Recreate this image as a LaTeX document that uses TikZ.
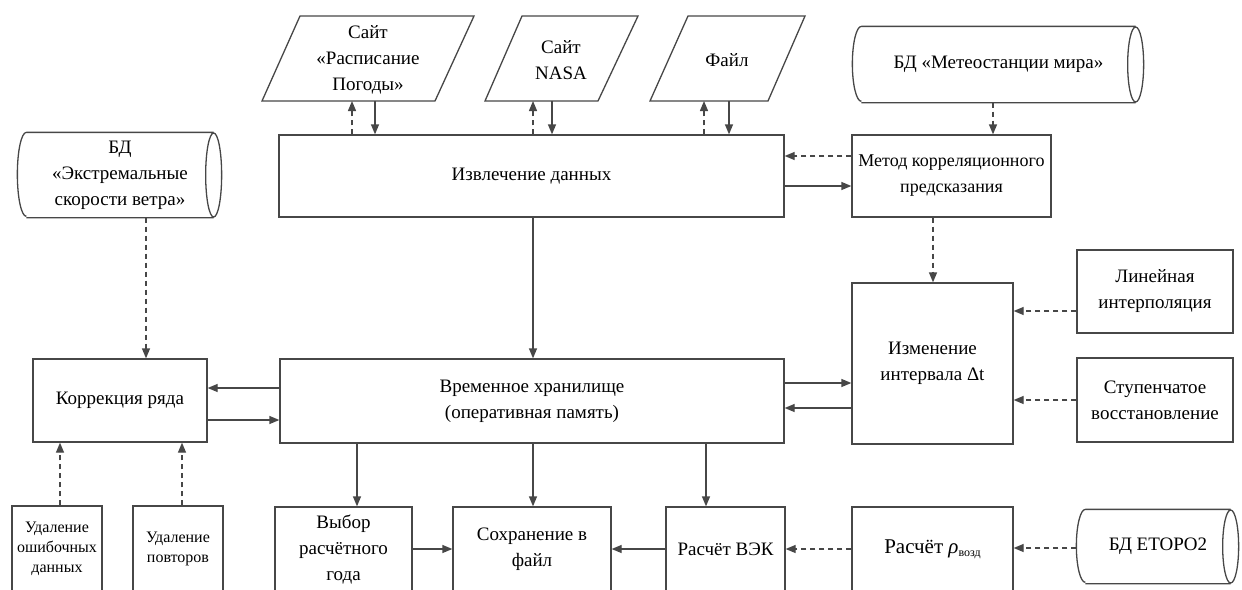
\documentclass[tikz,border=0pt]{standalone}
\usepackage{fontspec}
\setmainfont{Liberation Serif}
\usetikzlibrary{arrows.meta}
\colorlet{ln}{black!72}
\begin{document}
\begin{tikzpicture}[x=1pt,y=-1pt,
  line width=1.3pt,
  box/.style={draw=ln, rectangle, inner sep=0pt, align=center, font=\rmfamily\fontsize{19}{26}\selectfont},
  txt/.style={inner sep=0pt, align=center, font=\rmfamily\fontsize{19}{26}\selectfont},
  arr/.style={draw=ln, -{Triangle[length=10pt,width=8pt]}},
  dsh/.style={arr, dash pattern=on 5pt off 4pt},
  outl/.style={draw=ln}
]
\useasboundingbox (0,0) rectangle (1242,589);
\begin{scope}
\clip (0,0) rectangle (1242,589);
% parallelograms
\node[txt] (p1) at (368,60) {Сайт\\«Расписание\\Погоды»};
\draw[outl] (300,16) -- (474,16) -- (435,101) -- (262,101) -- cycle;
\node[txt] (p2) at (561,60) {Сайт\\NASA};
\draw[outl] (522,16) -- (638,16) -- (598,101) -- (485,101) -- cycle;
\node[txt] (p3) at (727,60) {Файл};
\draw[outl] (688,16) -- (805,16) -- (768,101) -- (650,101) -- cycle;
\coordinate (p1a) at (352,101); \coordinate (p1b) at (375,101);
\coordinate (p2a) at (533,101); \coordinate (p2b) at (552,101);
\coordinate (p3a) at (704,101); \coordinate (p3b) at (729,101);
% cylinders
\node[txt, minimum width=273, minimum height=75] (dbM) at (998.5,64.5) {БД «Метеостанции мира»};
\draw[outl] (dbM.north west) -- (dbM.north east) (dbM.south west) -- (dbM.south east)
  (dbM.east) ellipse [x radius=8pt, y radius=37.5pt]
  (dbM.north west) arc [start angle=90, end angle=270, x radius=9pt, y radius=37.5pt];
\node[txt, minimum width=186, minimum height=84] (dbE) at (120,175) {БД\\«Экстремальные\\скорости ветра»};
\draw[outl] (dbE.north west) -- (dbE.north east) (dbE.south west) -- (dbE.south east)
  (dbE.east) ellipse [x radius=8pt, y radius=42pt]
  (dbE.north west) arc [start angle=90, end angle=270, x radius=9pt, y radius=42pt];
\node[txt, minimum width=144, minimum height=73] (dbT) at (1158,546.5) {БД ETOPO2};
\draw[outl] (dbT.north west) -- (dbT.north east) (dbT.south west) -- (dbT.south east)
  (dbT.east) ellipse [x radius=8pt, y radius=36.5pt]
  (dbT.north west) arc [start angle=90, end angle=270, x radius=9pt, y radius=36.5pt];
% boxes
\node[box, minimum width=505, minimum height=82] (ext) at (531.5,176) {Извлечение данных};
\node[box, minimum width=199, minimum height=82, font=\rmfamily\fontsize{18}{26}\selectfont] (met) at (951.5,176) {Метод корреляционного\\предсказания};
\node[box, minimum width=174, minimum height=83] (corr) at (120,400.5) {Коррекция ряда};
\node[box, minimum width=504, minimum height=84] (tmp) at (532,401) {Временное хранилище\\(оперативная память)};
\node[box, minimum width=161, minimum height=161] (izm) at (932.5,363.5) {Изменение\\интервала Δt};
\node[box, minimum width=156, minimum height=83] (lin) at (1155,291.5) {Линейная\\интерполяция};
\node[box, minimum width=156, minimum height=84] (stu) at (1155,400) {Ступенчатое\\восстановление};
\node[box, minimum width=137, minimum height=85] (vyb) at (343.5,549.5) {Выбор\\расчётного\\года};
\node[box, minimum width=158, minimum height=85] (sav) at (532,549.5) {Сохранение в\\файл};
\node[box, minimum width=119, minimum height=85] (vek) at (725.5,549.5) {Расчёт ВЭК};
\node[box, minimum width=161, minimum height=85, font=\rmfamily\fontsize{21}{26}\selectfont] (rho) at (932.5,549.5) {Расчёт \textit{ρ}\raisebox{-0.35ex}{\fontsize{12}{12}\selectfont возд}};
\node[box, minimum width=90, minimum height=86, font=\rmfamily\fontsize{16}{20}\selectfont] (ud1) at (57,549) {Удаление\\ошибочных\\данных};
\node[box, minimum width=90, minimum height=86, font=\rmfamily\fontsize{16}{20}\selectfont] (ud2) at (178,549) {Удаление\\повторов};
% connectors top
\draw[dsh] (ext.north -| p1a) -- (p1a);
\draw[arr] (p1b) -- (ext.north -| p1b);
\draw[dsh] (ext.north -| p2a) -- (p2a);
\draw[arr] (p2b) -- (ext.north -| p2b);
\draw[dsh] (ext.north -| p3a) -- (p3a);
\draw[arr] (p3b) -- (ext.north -| p3b);
\coordinate (mA) at (993,0);
\draw[dsh] (dbM.south -| mA) -- (met.north -| mA);
\draw[dsh] (met.west |- 0,156) -- (ext.east |- 0,156);
\draw[arr] (ext.east |- 0,186) -- (met.west |- 0,186);
\coordinate (mB) at (933,0);
\draw[dsh] (met.south -| mB) -- (izm.north -| mB);
\draw[arr] (ext.south -| 533,0) -- (tmp.north -| 533,0);
\draw[dsh] (dbE.south -| 146,0) -- (corr.north -| 146,0);
\draw[arr] (tmp.west |- 0,388) -- (corr.east |- 0,388);
\draw[arr] (corr.east |- 0,420) -- (tmp.west |- 0,420);
\draw[arr] (tmp.east |- 0,383) -- (izm.west |- 0,383);
\draw[arr] (izm.west |- 0,408) -- (tmp.east |- 0,408);
\draw[dsh] (lin.west |- 0,311) -- (izm.east |- 0,311);
\draw[dsh] (stu.west |- 0,400) -- (izm.east |- 0,400);
% bottom
\draw[arr] (tmp.south -| 357,0) -- (vyb.north -| 357,0);
\draw[arr] (tmp.south -| 533,0) -- (sav.north -| 533,0);
\draw[arr] (tmp.south -| 706,0) -- (vek.north -| 706,0);
\draw[arr] (vyb.east |- 0,549) -- (sav.west |- 0,549);
\draw[arr] (vek.west |- 0,549) -- (sav.east |- 0,549);
\draw[dsh] (rho.west |- 0,549) -- (vek.east |- 0,549);
\draw[dsh] (dbT.west |- 0,548) ++(-9,0) -- (rho.east |- 0,548);
\draw[dsh] (ud1.north -| 60,0) -- (corr.south -| 60,0);
\draw[dsh] (ud2.north -| 182,0) -- (corr.south -| 182,0);
\end{scope}
\end{tikzpicture}
\end{document}
